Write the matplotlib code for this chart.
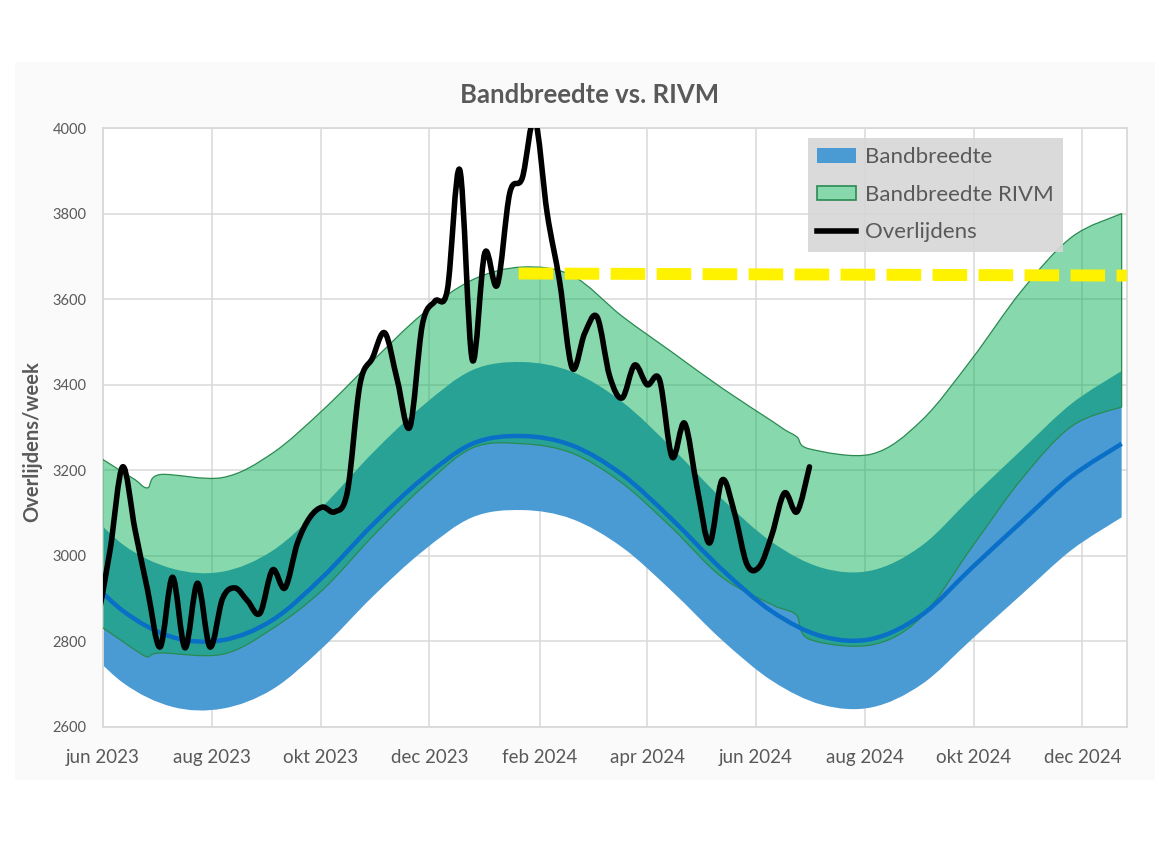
import datetime as dt
import numpy as np
import matplotlib
matplotlib.use('Agg')
import matplotlib.pyplot as plt
import matplotlib.dates as mdates
from matplotlib.path import Path
from matplotlib.patches import PathPatch, Patch, Rectangle
from matplotlib.lines import Line2D

plt.rcParams['font.family'] = ['Lato', 'DejaVu Sans']

# first Monday of the series, all week numbers count from here
start = dt.date(2023, 5, 29)

# weekly deaths (Overlijdens), week 0 .. 57
death_weeks = list(range(58))
deaths = [2850, 3014, 3208, 3060, 2920, 2787, 2950, 2785, 2936, 2787,
          2900, 2925, 2895, 2866, 2967, 2925, 3030, 3090, 3114, 3103,
          3150, 3400, 3462, 3521, 3410, 3301, 3540, 3595, 3621, 3902,
          3458, 3708, 3633, 3848, 3883, 4020, 3800, 3640, 3439, 3520,
          3558, 3420, 3369, 3446, 3400, 3411, 3231, 3310, 3160, 3030,
          3177, 3100, 2980, 2975, 3050, 3147, 3103, 3208]

# Bandbreedte (own baseline): mid line and band edges
band_weeks = [-2, 2, 6, 10, 14, 18, 22, 26, 30, 34, 38,
              42, 46, 50, 54, 58, 62, 66, 70, 74, 78, 82]
band_mid = [2985, 2872, 2810, 2803, 2850, 2950, 3072, 3180, 3262, 3280, 3258,
            3190, 3085, 2968, 2870, 2812, 2806, 2862, 2972, 3080, 3186, 3262]
band_low = [2817, 2704, 2647, 2643, 2688, 2785, 2904, 3010, 3090, 3107, 3086,
            3020, 2917, 2803, 2708, 2652, 2646, 2700, 2805, 2910, 3014, 3090]
band_high = [3143, 3027, 2970, 2963, 3012, 3115, 3240, 3350, 3434, 3453, 3430,
             3360, 3252, 3133, 3032, 2972, 2966, 3024, 3137, 3248, 3356, 3432]

# Bandbreedte RIVM
rivm_weeks = [-2, 2, 3, 4, 5, 10, 14, 18, 22, 26, 30, 34, 38, 42, 46,
              50, 54, 55, 56, 57, 62, 66, 70, 74, 78, 82]
rivm_low = [2880, 2800, 2780, 2764, 2773, 2770, 2830, 2920, 3045, 3160, 3252,
            3262, 3240, 3170, 3065, 2950, 2886, 2875, 2860, 2805, 2792, 2858,
            3020, 3180, 3303, 3348]
rivm_high = [3270, 3196, 3178, 3159, 3190, 3183, 3240, 3340, 3455, 3565, 3645,
             3675, 3655, 3560, 3476, 3392, 3315, 3295, 3278, 3250, 3238, 3317,
             3460, 3620, 3745, 3800]

# yellow reference level
ref_dates = [dt.date(2024, 1, 20), dt.date(2024, 12, 26)]
ref_values = [3660, 3655]

tick_dates = [dt.date(2023, 6, 1), dt.date(2023, 8, 1), dt.date(2023, 10, 1),
              dt.date(2023, 12, 1), dt.date(2024, 2, 1), dt.date(2024, 4, 1),
              dt.date(2024, 6, 1), dt.date(2024, 8, 1), dt.date(2024, 10, 1),
              dt.date(2024, 12, 1)]
tick_labels = ['jun 2023', 'aug 2023', 'okt 2023', 'dec 2023', 'feb 2024',
               'apr 2024', 'jun 2024', 'aug 2024', 'okt 2024', 'dec 2024']


def week_num(weeks):
    return mdates.date2num([start + dt.timedelta(weeks=w) for w in weeks])


def bezier(pts):
    # Excel style smoothing: cubic bezier pieces through every point
    n = len(pts)
    verts = []
    for i in range(n - 1):
        p0 = pts[max(i - 1, 0)]
        p1 = pts[i]
        p2 = pts[i + 1]
        p3 = pts[min(i + 2, n - 1)]
        verts += [p1 + (p2 - p0) / 6, p2 - (p3 - p1) / 6, p2]
    return verts


def line_path(x, y):
    pts = np.column_stack([x, y])
    verts = [pts[0]] + bezier(pts)
    codes = [Path.MOVETO] + [Path.CURVE4] * (len(verts) - 1)
    return Path(verts, codes)


def band_path(x, low, high):
    up = np.column_stack([x, high])
    lo = np.column_stack([x, low])[::-1]
    verts = [up[0]] + bezier(up) + [lo[0]] + bezier(lo) + [up[0]]
    codes = ([Path.MOVETO] + [Path.CURVE4] * (3 * (len(up) - 1)) + [Path.LINETO]
             + [Path.CURVE4] * (3 * (len(lo) - 1)) + [Path.CLOSEPOLY])
    return Path(verts, codes)


grey = '#595959'
grid_c = '#D9D9D9'
blue_fill = '#4A9BD4'
green_face = (0.0, 0.675, 0.31, 0.47)
green_edge = '#2B8A52'
line_blue = '#0A6FC6'

fig = plt.figure(figsize=(11.55, 8.41), dpi=100)
fig.patches.append(Rectangle((15 / 1155, 61 / 841), 1, 718 / 841,
                             transform=fig.transFigure, facecolor='#FAFAFA',
                             edgecolor='none', zorder=-5))

ax = fig.add_axes([103 / 1155, 114 / 841, 1024 / 1155, 599 / 841])
ax.set_facecolor('white')
ax.set_zorder(2)

bx = week_num(band_weeks)
ax.add_patch(PathPatch(band_path(bx, band_low, band_high), facecolor=blue_fill,
                       edgecolor='none', zorder=2))

rx = week_num(rivm_weeks)
ax.add_patch(PathPatch(band_path(rx, rivm_low, rivm_high), facecolor=green_face,
                       edgecolor=green_edge, lw=0.9, zorder=3))

ax.add_patch(PathPatch(line_path(bx, band_mid), fill=False, edgecolor=line_blue,
                       lw=3.2, capstyle='butt', zorder=4))

dx = week_num(death_weeks)
ax.add_patch(PathPatch(line_path(dx, deaths), fill=False, edgecolor='black',
                       lw=4, capstyle='round', joinstyle='round', zorder=5))

ax.plot(mdates.date2num(ref_dates), ref_values, color='#FFF200', lw=8.6,
        dashes=(2.9, 0.95), dash_capstyle='butt', zorder=6)

ax.set_xlim(mdates.date2num(dt.date(2023, 6, 1)), mdates.date2num(dt.date(2024, 12, 26)))
ax.set_ylim(2600, 4000)
ax.set_yticks(range(2600, 4001, 200))
ax.set_xticks(mdates.date2num(tick_dates))
ax.set_xticklabels(tick_labels)
ax.tick_params(axis='x', length=0, pad=16, labelsize=13.5, labelcolor=grey)
ax.tick_params(axis='y', length=0, pad=12, labelsize=10.5, labelcolor=grey)
ax.grid(True, color=grid_c, lw=1.1, zorder=1)
ax.set_axisbelow(True)
for s in ax.spines.values():
    s.set_color(grid_c)
    s.set_linewidth(1.3)

fig.text(590 / 1155, 1 - 95 / 841, 'Bandbreedte vs. RIVM', ha='center', va='center',
         fontsize=18.5, fontweight='bold', color=grey)
fig.text(32 / 1155, 1 - 442 / 841, 'Overlijdens/week', rotation=90, ha='center',
         va='center', fontsize=14.5, fontweight='bold', color=grey)

handles = [Patch(facecolor=blue_fill, edgecolor='none'),
           Patch(facecolor='#87D8AC', edgecolor=green_edge, lw=1.2),
           Line2D([], [], color='black', lw=4)]
leg = ax.legend(handles, ['Bandbreedte', 'Bandbreedte RIVM', 'Overlijdens'],
                loc='upper left', bbox_to_anchor=(808 / 1155, 1 - 138 / 841),
                bbox_transform=fig.transFigure, borderaxespad=0, fontsize=16,
                frameon=True, fancybox=False, facecolor='#D6D6D6', edgecolor='none',
                framealpha=0.9, handlelength=1.75, handleheight=0.6,
                handletextpad=0.4, labelspacing=0.79, borderpad=0.42)
for t in leg.get_texts():
    t.set_color(grey)
leg.set_zorder(7)

fig.savefig('out.png', dpi=100)
